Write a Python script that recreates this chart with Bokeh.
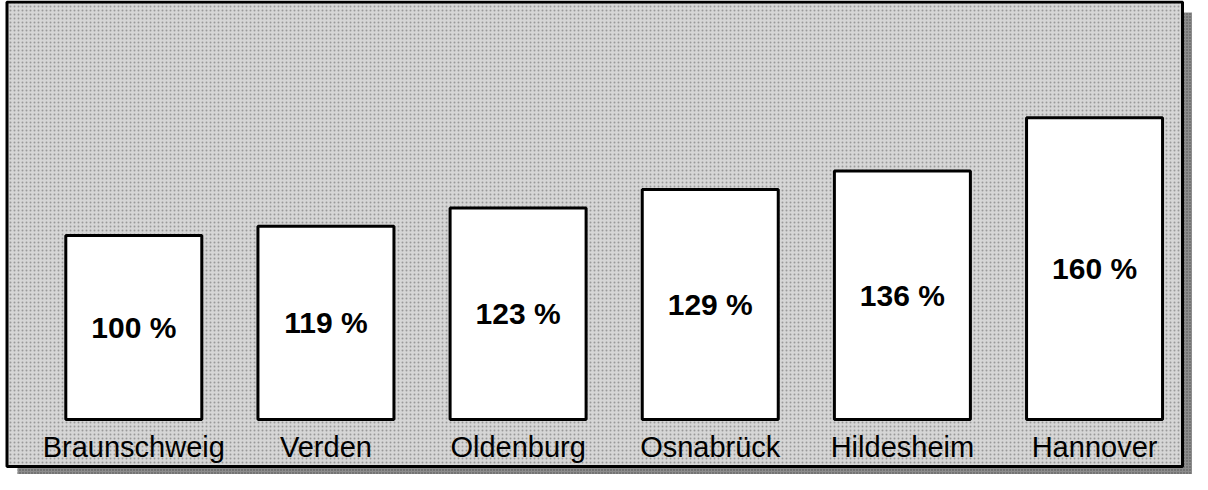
from bokeh.plotting import figure
from bokeh.models import Range1d, ColumnDataSource
from bokeh.core.properties import value
from bokeh.embed import file_html
from bokeh.resources import INLINE

# ---- data ----
categories = ["Braunschweig", "Verden", "Oldenburg", "Osnabrück", "Hildesheim", "Hannover"]
percent_values = [100, 119, 123, 129, 136, 160]
# bar heights as drawn in the picture (Braunschweig = 100)
bar_heights = [100, 105, 115, 125, 135, 164]
value_labels = [f"{v} %" for v in percent_values]

# ---- layout (pixels) ----
W, H = 1192, 474
X0, DX = 133.3, 192.15      # pixel centre of first bar, spacing between bars
BASE, K = 419.0, 1.84       # pixel of bar base, pixels per unit of height


def px_x(px):
    return (px - X0) / DX


def px_y(py):
    return (BASE - py) / K


p = figure(width=W, height=H, output_backend="svg", toolbar_location=None,
           x_range=Range1d(px_x(0), px_x(W)), y_range=Range1d(px_y(H), px_y(0)),
           min_border=0)
p.axis.visible = False
p.grid.visible = False
p.outline_line_color = None
p.background_fill_color = "white"
p.border_fill_color = "white"

# drop shadow
p.quad(left=px_x(17), right=px_x(W), top=px_y(12), bottom=px_y(H),
       fill_color="#8c8c8c", line_color=None,
       hatch_pattern="dot", hatch_color="#505050", hatch_scale=3, hatch_weight=1)
# panel box
p.quad(left=px_x(6.5), right=px_x(1182), top=px_y(1.5), bottom=px_y(466),
       fill_color="#d6d6d6", line_color="black", line_width=3,
       hatch_pattern="dot", hatch_color="#999999", hatch_scale=4, hatch_weight=1)

idx = list(range(len(categories)))
src = ColumnDataSource(dict(
    x=idx,
    top=bar_heights,
    mid=[h / 2 for h in bar_heights],
    cat=categories,
    lab=value_labels,
))

p.vbar(x="x", top="top", bottom=0, width=136 / DX, source=src,
       fill_color="white", line_color="black", line_width=3)

p.text(x="x", y="mid", text="lab", source=src, text_align="center",
       text_baseline="middle", text_font=value("Liberation Sans"),
       text_font_style="bold", text_font_size="30px", text_color="black")

p.text(x="x", y=px_y(446), text="cat", source=src, text_align="center",
       text_baseline="middle", text_font=value("Liberation Sans"),
       text_font_size="29px", text_color="black")

open("out.html", "w").write(file_html(p, INLINE))
